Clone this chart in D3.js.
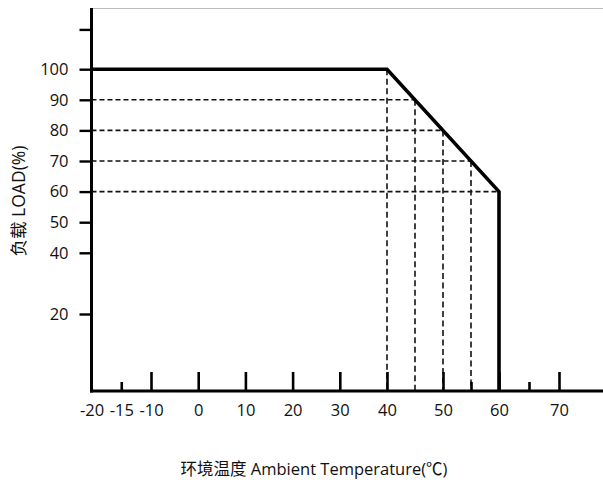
<!DOCTYPE html>
<html>
<head>
<meta charset="utf-8">
<script src="https://cdn.jsdelivr.net/npm/d3@7"></script>
<style>
  body { margin: 0; background: #fff; }
  svg { display: block; }
  text { font-family: "Open Sans", "Noto Sans CJK SC", sans-serif; fill: #111; }
</style>
</head>
<body>
<svg id="chart" width="603" height="482"></svg>
<script>
// Derating curve: load vs ambient temperature

// --- data ---
const curveTemp = [-20, 40, 60, 60];
const curveLoad = [100, 100, 60, 0];

// guide points on the slope (dashed lines)
const guideTemp = [40, 45, 50, 55, 60];
const guideLoad = [100, 90, 80, 70, 60];

const xLabelTicks = [-20, -15, -10, 0, 10, 20, 30, 40, 50, 60, 70];
const xMajorTicks = [-10, 0, 10, 20, 30, 40, 50, 60, 70];
const xMinorTicks = [-15, 55, 65];
const yTicks = [20, 40, 50, 60, 70, 80, 90, 100, 113];

const xTitle = '环境温度 Ambient Temperature(℃)';
const yTitle = '负载 LOAD(%)';

// --- layout ---
const W = 603, H = 482;
const svg = d3.select('#chart');

// the original axis is not evenly spaced, so use a piecewise scale
const x = d3.scaleLinear()
  .domain([-20, -10, 40, 60, 70])
  .range([91.5, 151, 387, 499, 559]);

const y = d3.scaleLinear()
  .domain([0, 20, 120])
  .range([391, 314, 8]);

const x0 = x(-20), yBase = y(0);

// top frame line
svg.append('line')
  .attr('x1', x0).attr('x2', W)
  .attr('y1', 8.5).attr('y2', 8.5)
  .attr('stroke', '#bbb').attr('stroke-width', 1);

// --- dashed guides ---
const guides = svg.append('g')
  .attr('stroke', '#111')
  .attr('stroke-width', 1.6)
  .attr('fill', 'none');

guideTemp.forEach((t, i) => {
  if (guideLoad[i] < 100) {
    guides.append('line')
      .attr('x1', x0).attr('x2', x(t))
      .attr('y1', y(guideLoad[i])).attr('y2', y(guideLoad[i]))
      .attr('stroke-dasharray', '5,3');
  }
  if (t < 60) {
    guides.append('line')
      .attr('x1', x(t)).attr('x2', x(t))
      .attr('y1', y(guideLoad[i])).attr('y2', yBase)
      .attr('stroke-dasharray', '6,3.5');
  }
});

// --- x axis ---
const xLab = svg.append('g')
  .attr('transform', `translate(0,${yBase})`)
  .call(d3.axisBottom(x).tickValues(xLabelTicks).tickSize(0).tickPadding(13)
    .tickFormat(d => String(d)));
xLab.select('.domain').remove();
xLab.selectAll('text').attr('font-size', 16.5);

const xMaj = svg.append('g')
  .attr('transform', `translate(0,${yBase})`)
  .call(d3.axisBottom(x).tickValues(xMajorTicks).tickSize(-19).tickFormat(''));
const xMin = svg.append('g')
  .attr('transform', `translate(0,${yBase})`)
  .call(d3.axisBottom(x).tickValues(xMinorTicks).tickSize(-9).tickFormat(''));
[xMaj, xMin].forEach(g => {
  g.select('.domain').remove();
  g.selectAll('line').attr('stroke', '#000').attr('stroke-width', 2.6);
});

// --- y axis ---
const yAx = svg.append('g')
  .attr('transform', `translate(${x0},0)`)
  .call(d3.axisLeft(y).tickValues(yTicks).tickSize(12).tickPadding(11)
    .tickFormat(d => d > 100 ? '' : String(d)));
yAx.select('.domain').remove();
yAx.selectAll('line').attr('stroke', '#000').attr('stroke-width', 2.4);
yAx.selectAll('text').attr('font-size', 16.5);

// axis lines
svg.append('line')
  .attr('x1', x0).attr('x2', x0)
  .attr('y1', 8).attr('y2', yBase + 1.5)
  .attr('stroke', '#000').attr('stroke-width', 3);
svg.append('line')
  .attr('x1', x0 - 1.5).attr('x2', W)
  .attr('y1', yBase).attr('y2', yBase)
  .attr('stroke', '#000').attr('stroke-width', 3);

// --- curve ---
const line = d3.line()
  .x(i => x(curveTemp[i]))
  .y(i => y(curveLoad[i]));

svg.append('path')
  .attr('d', line(d3.range(curveTemp.length)))
  .attr('fill', 'none')
  .attr('stroke', '#000')
  .attr('stroke-width', 3.6)
  .attr('stroke-linejoin', 'miter');

// --- titles ---
svg.append('text')
  .attr('x', 314).attr('y', 475)
  .attr('text-anchor', 'middle')
  .attr('font-size', 16.5)
  .text(xTitle);

svg.append('text')
  .attr('transform', 'translate(25,201) rotate(-90)')
  .attr('text-anchor', 'middle')
  .attr('font-size', 17.5)
  .text(yTitle);
</script>
</body>
</html>
